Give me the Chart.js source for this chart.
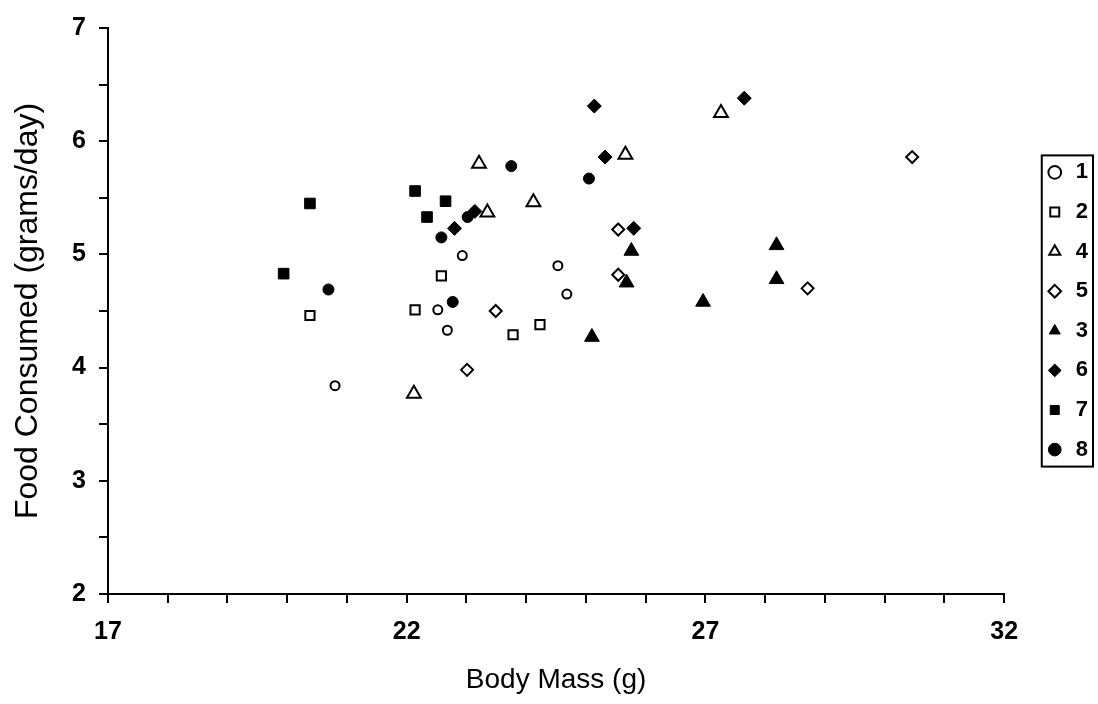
<!DOCTYPE html>
<html>
<head>
<meta charset="utf-8">
<script src="https://cdn.jsdelivr.net/npm/chart.js@4.4.1/dist/chart.umd.min.js"></script>
<style>
  html, body { margin: 0; padding: 0; background: #fff; }
</style>
</head>
<body>
<canvas id="chart" width="1098" height="704"></canvas>
<script>
// tick labels shown on the axes
const xTickLabels = [17, 22, 27, 32];
const yTickLabels = [2, 3, 4, 5, 6, 7];

// groups, in legend order
const groups = ["1", "2", "4", "5", "3", "6", "7", "8"];

// body mass (g) and food consumed (grams/day) per group
const mass1 = [20.80, 22.52, 22.68, 22.93, 24.53, 24.68];
const food1 = [3.84, 4.51, 4.33, 4.99, 4.90, 4.65];

const mass2 = [20.38, 22.14, 22.58, 23.78, 24.23];
const food2 = [4.46, 4.51, 4.81, 4.29, 4.38];

const mass4 = [22.12, 23.21, 23.35, 24.12, 25.66, 27.26];
const food4 = [3.77, 5.80, 5.37, 5.46, 5.88, 6.25];

const mass5 = [23.01, 23.49, 25.54, 25.54, 28.71, 30.46];
const food5 = [3.98, 4.50, 5.22, 4.82, 4.70, 5.86];

const mass3 = [25.10, 25.68, 25.76, 26.96, 28.19, 28.19];
const food3 = [4.27, 4.75, 5.03, 4.58, 5.08, 4.78];

const mass6 = [25.14, 27.65, 25.32, 25.80, 22.80, 23.14];
const food6 = [6.31, 6.38, 5.86, 5.23, 5.23, 5.38];

const mass7 = [19.94, 20.38, 22.14, 22.34, 22.65];
const food7 = [4.83, 5.45, 5.56, 5.33, 5.47];

const mass8 = [20.69, 22.58, 22.77, 23.02, 23.75, 25.05];
const food8 = [4.69, 5.15, 4.58, 5.33, 5.78, 5.67];

const FONT = 'Arial, "Liberation Sans", sans-serif';
Chart.defaults.font.family = FONT;
Chart.defaults.color = '#000';

function pts(xs, ys) {
    return xs.map((x, i) => ({ x: x, y: ys[i] }));
}

function series(label, xs, ys, style, filled, radius) {
    return {
        label: label,
        data: pts(xs, ys),
        pointStyle: style,
        pointRadius: radius,
        pointHoverRadius: radius,
        backgroundColor: filled ? '#000' : '#fff',
        borderColor: '#000',
        borderWidth: filled ? 1 : 2,
        showLine: false
    };
}

const datasets = [
    series(groups[0], mass1, food1, 'circle', false, 4.5),
    series(groups[1], mass2, food2, 'rect', false, 6.5),
    series(groups[2], mass4, food4, 'triangle', false, 8),
    series(groups[3], mass5, food5, 'rectRot', false, 6),
    series(groups[4], mass3, food3, 'triangle', true, 8.5),
    series(groups[5], mass6, food6, 'rectRot', true, 7),
    series(groups[6], mass7, food7, 'rect', true, 7.5),
    series(groups[7], mass8, food8, 'circle', true, 5.5)
];

// box round the legend entries
const legendBorder = {
    id: 'legendBorder',
    afterDraw(chart) {
        const boxes = chart.legend && chart.legend.legendHitBoxes;
        if (!boxes || !boxes.length) return;
        let l = Infinity, t = Infinity, r = -Infinity, b = -Infinity;
        boxes.forEach(h => {
            l = Math.min(l, h.left);
            t = Math.min(t, h.top);
            r = Math.max(r, h.left + h.width);
            b = Math.max(b, h.top + h.height);
        });
        const ctx = chart.ctx;
        ctx.save();
        ctx.strokeStyle = '#000';
        ctx.lineWidth = 2;
        ctx.strokeRect(l - 3, t - 6, (r + 5) - (l - 3), (b + 6) - (t - 6));
        ctx.restore();
    }
};

new Chart(document.getElementById('chart'), {
    type: 'scatter',
    data: { datasets: datasets },
    options: {
        responsive: false,
        animation: false,
        layout: { padding: { top: 22, left: 0, right: 0, bottom: 0 } },
        plugins: {
            tooltip: { enabled: false },
            legend: {
                position: 'right',
                fullSize: false,
                labels: {
                    usePointStyle: true,
                    boxHeight: 9,
                    boxWidth: 20,
                    padding: 17.6,
                    color: '#000',
                    font: { family: FONT, size: 22, weight: 'bold' }
                }
            }
        },
        scales: {
            x: {
                type: 'linear',
                min: 17,
                max: 32,
                afterFit: s => { s.height = 110; },
                border: { display: true, color: '#000', width: 2 },
                grid: {
                    drawOnChartArea: false,
                    drawTicks: true,
                    tickLength: 9,
                    color: '#000',
                    lineWidth: 2
                },
                ticks: {
                    stepSize: 1,
                    autoSkip: false,
                    maxRotation: 0,
                    padding: 14,
                    color: '#000',
                    font: { family: FONT, size: 25, weight: 'bold' },
                    callback: v => xTickLabels.includes(v) ? String(v) : ''
                },
                title: {
                    display: true,
                    text: 'Body Mass (g)',
                    color: '#000',
                    font: { family: FONT, size: 28 },
                    padding: { top: 0, bottom: 7 }
                }
            },
            y: {
                type: 'linear',
                min: 2,
                max: 7,
                afterFit: s => { s.width = 108; },
                border: { display: true, color: '#000', width: 2 },
                grid: {
                    drawOnChartArea: false,
                    drawTicks: true,
                    tickLength: 9,
                    color: '#000',
                    lineWidth: 2
                },
                ticks: {
                    stepSize: 0.5,
                    autoSkip: false,
                    padding: 13,
                    color: '#000',
                    font: { family: FONT, size: 25, weight: 'bold' },
                    callback: v => yTickLabels.includes(v) ? String(v) : ''
                },
                title: {
                    display: true,
                    text: 'Food Consumed (grams/day)',
                    color: '#000',
                    font: { family: FONT, size: 32 },
                    padding: { top: 9, bottom: 0 }
                }
            },
            // empty strip between the plot and the legend
            gap: {
                type: 'linear',
                position: 'right',
                display: true,
                afterFit: s => { s.width = 23; },
                border: { display: false },
                grid: { display: false },
                ticks: { display: false }
            }
        }
    },
    plugins: [legendBorder]
});
</script>
</body>
</html>
